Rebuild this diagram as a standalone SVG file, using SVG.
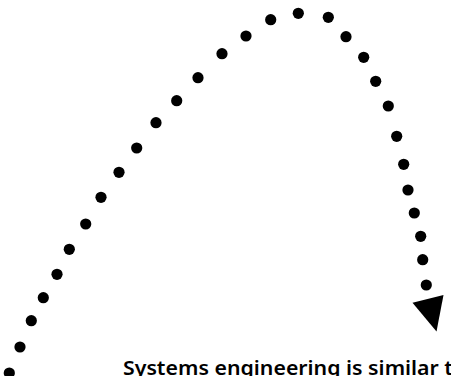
<svg xmlns="http://www.w3.org/2000/svg" width="451" height="376" viewBox="0 0 451 376">
<style>
.dot{fill:#000}
.head{fill:#000}
.cap{font-family:"Noto Sans","Liberation Sans",sans-serif;font-size:20px;font-weight:600;fill:#000}
</style>
<rect width="451" height="376" fill="#fff"/>
<g id="connectors">
<g id="dotted-arc">
<circle class="dot" cx="9.3" cy="373" r="5.6"/>
<circle class="dot" cx="20" cy="347" r="5.6"/>
<circle class="dot" cx="31.3" cy="320.7" r="5.6"/>
<circle class="dot" cx="43.3" cy="297.7" r="5.6"/>
<circle class="dot" cx="57" cy="274.3" r="5.6"/>
<circle class="dot" cx="69.3" cy="249.3" r="5.6"/>
<circle class="dot" cx="85.7" cy="224" r="5.6"/>
<circle class="dot" cx="101" cy="197.3" r="5.6"/>
<circle class="dot" cx="119" cy="172.3" r="5.6"/>
<circle class="dot" cx="136.7" cy="148" r="5.6"/>
<circle class="dot" cx="156" cy="122.7" r="5.6"/>
<circle class="dot" cx="176.7" cy="100.7" r="5.6"/>
<circle class="dot" cx="198" cy="77.7" r="5.6"/>
<circle class="dot" cx="222" cy="53.7" r="5.6"/>
<circle class="dot" cx="246" cy="36" r="5.6"/>
<circle class="dot" cx="270.7" cy="19.7" r="5.6"/>
<circle class="dot" cx="298.3" cy="13.3" r="5.6"/>
<circle class="dot" cx="328.3" cy="17.3" r="5.6"/>
<circle class="dot" cx="346" cy="36.7" r="5.6"/>
<circle class="dot" cx="363.7" cy="57.3" r="5.6"/>
<circle class="dot" cx="375.7" cy="81.3" r="5.6"/>
<circle class="dot" cx="388.3" cy="106" r="5.6"/>
<circle class="dot" cx="396.7" cy="136.3" r="5.6"/>
<circle class="dot" cx="403.7" cy="164.3" r="5.6"/>
<circle class="dot" cx="408" cy="190" r="5.6"/>
<circle class="dot" cx="414.3" cy="213" r="5.6"/>
<circle class="dot" cx="420.7" cy="236.3" r="5.6"/>
<circle class="dot" cx="422.7" cy="259.7" r="5.6"/>
<circle class="dot" cx="426.3" cy="285" r="5.6"/>
<polygon class="head" points="412.5,302.7 443.5,295 436.5,331.5"/>
</g>
</g>
<g id="caption">
<text class="cap" x="123" y="375" textLength="330" lengthAdjust="spacingAndGlyphs">Systems engineering is similar t</text>
</g>
</svg>
